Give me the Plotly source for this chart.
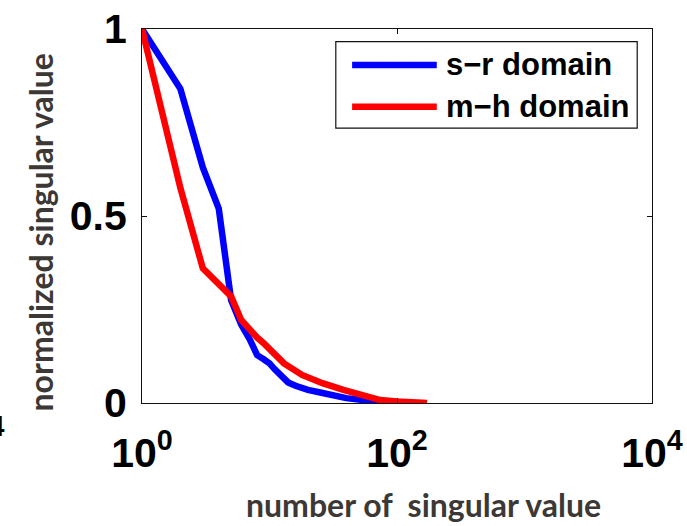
import plotly.graph_objects as go

# Singular value spectra, normalized to the largest value
sr_rank = [1, 2, 3, 4, 5, 6, 7, 8, 9, 10, 11, 12, 13, 14, 16, 18, 20, 25, 30, 40, 54, 70, 100]
sr_value = [1.0, 0.84, 0.63, 0.52, 0.275, 0.21, 0.17, 0.128, 0.117, 0.106, 0.09, 0.075,
            0.062, 0.055, 0.046, 0.039, 0.035, 0.028, 0.021, 0.013, 0.008, 0.004, 0.0]

mh_rank = [1, 2, 3, 4, 5, 6, 7, 8, 9, 10, 13, 18, 26, 38, 50, 74, 100, 130, 172]
mh_value = [1.0, 0.575, 0.36, 0.315, 0.285, 0.222, 0.195, 0.175, 0.16, 0.145, 0.106,
            0.075, 0.053, 0.035, 0.024, 0.008, 0.004, 0.002, 0.0]

series_names = ["s\u2212r domain", "m\u2212h domain"]
series_colors = ["#0000ff", "#ff0000"]

x_tick_vals = [1, 100, 10000]
x_tick_text = ["10<sup>0</sup>", "10<sup>2</sup>", "10<sup>4</sup>"]
y_tick_vals = [0, 0.5, 1]
y_tick_text = ["0", "0.5", "1"]

x_title = "number of  singular value"
y_title = "normalized singular value"

tick_font = dict(family="Liberation Sans, Arial, sans-serif", size=41, color="#000000", weight="bold")
title_font = dict(family="Lato, Open Sans, sans-serif", size=32, color="#3b3835", weight="bold")

fig = go.Figure()
fig.add_trace(go.Scatter(x=sr_rank, y=sr_value, mode="lines", name=series_names[0],
                         line=dict(color=series_colors[0], width=6.5), showlegend=False))
fig.add_trace(go.Scatter(x=mh_rank, y=mh_value, mode="lines", name=series_names[1],
                         line=dict(color=series_colors[1], width=6.5), showlegend=False))

axis_common = dict(showgrid=False, zeroline=False, showline=True, linecolor="#111111",
                   linewidth=1.2, mirror="ticks", ticks="inside", ticklen=5,
                   tickwidth=1, tickcolor="#111111", tickfont=tick_font, automargin=False)

fig.update_xaxes(type="log", range=[0, 4], tickvals=x_tick_vals, ticktext=x_tick_text,
                 ticklabelstandoff=14, **axis_common)
fig.update_yaxes(range=[0, 1], tickvals=y_tick_vals, ticktext=y_tick_text,
                 ticklabelstandoff=6, **axis_common)

# Legend box drawn in paper coordinates
legend_x0, legend_x1 = 0.380, 0.971
legend_y0, legend_y1 = 0.735, 0.966
sample_x0, sample_x1 = 0.412, 0.578
row_y = [0.904, 0.792]
shapes = [dict(type="rect", xref="paper", yref="paper", x0=legend_x0, x1=legend_x1,
               y0=legend_y0, y1=legend_y1, line=dict(color="#111111", width=1.2),
               fillcolor="white", layer="above")]
annotations = []
for name, color, ry in zip(series_names, series_colors, row_y):
    shapes.append(dict(type="line", xref="paper", yref="paper", x0=sample_x0, x1=sample_x1,
                       y0=ry, y1=ry, line=dict(color=color, width=6.5), layer="above"))
    annotations.append(dict(text=name, xref="paper", yref="paper", x=0.593, y=ry,
                            xanchor="left", yanchor="middle", showarrow=False,
                            font=dict(family="Liberation Sans, Arial, sans-serif", size=31,
                                      color="#000000", weight="bold")))

# Axis titles
annotations.append(dict(text=x_title, xref="paper", yref="paper", x=0.552, y=-0.272,
                        xanchor="center", yanchor="middle", showarrow=False, font=title_font))
annotations.append(dict(text=y_title, xref="paper", yref="paper", x=-0.2, y=0.456,
                        xanchor="center", yanchor="middle", textangle=-90, showarrow=False,
                        font=title_font))

# Edge of the neighbouring panel's tick label
annotations.append(dict(text="10<sup>4</sup>", xref="paper", yref="paper", x=-0.265, y=-0.013,
                        xanchor="right", yanchor="top", showarrow=False, font=tick_font))

fig.update_layout(width=687, height=526, margin=dict(l=142, r=35, t=29, b=123),
                  paper_bgcolor="white", plot_bgcolor="white",
                  shapes=shapes, annotations=annotations)

fig.write_html("out.html")
